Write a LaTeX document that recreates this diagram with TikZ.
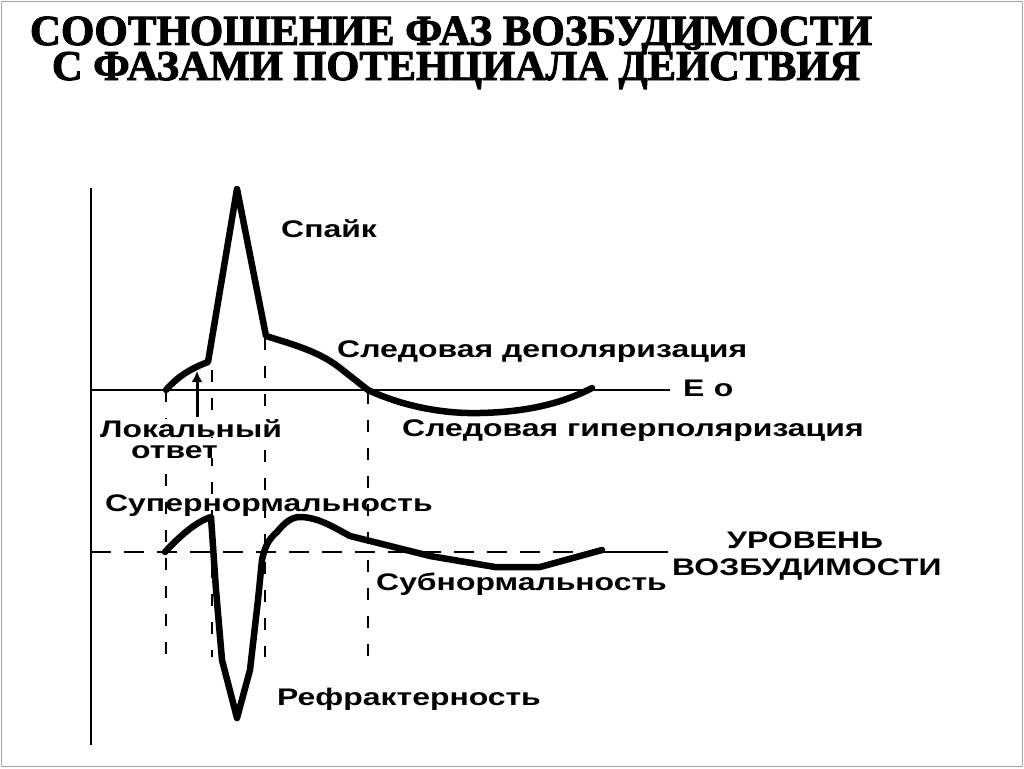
\documentclass[tikz,border=0pt]{standalone}
\usepackage{fontspec}
\setmainfont{Liberation Sans}
\newfontfamily\titlefont[FakeBold=2.2]{Liberation Serif Bold}
\newfontfamily\lblfont{Liberation Sans Bold}
\newcommand\lblstretch[1]{\scalebox{1.33}[1]{#1}}
\usetikzlibrary{arrows.meta}
\tikzset{
  curve/.style={line width=6.5pt, line join=round, line cap=round},
  axisline/.style={line width=1.5pt},
  guide/.style={line width=1.4pt, dash pattern=on 12pt off 16pt},
  leveldash/.style={line width=1.4pt, dash pattern=on 20pt off 13pt},
  lbl/.style={font=\lblfont\fontsize{24}{28}\selectfont, inner sep=0pt, anchor=base west},
  ttl/.style={font=\titlefont\fontsize{42}{46}\selectfont, inner sep=0pt, anchor=base}
}
\begin{document}
\begin{tikzpicture}[x=1pt, y=-1pt]
\useasboundingbox (0,0) rectangle (1024,768);
\fill[white] (0,0) rectangle (1024,768);
\draw[gray!70, line width=1.5pt] (1.5,1.5) rectangle (1022.5,766.5);

% title
\node[ttl] (t1) at (451,45) {\resizebox{842pt}{!}{СООТНОШЕНИЕ ФАЗ ВОЗБУДИМОСТИ}};
\node[ttl] (t2) at (456,80) {\resizebox{808pt}{!}{С ФАЗАМИ ПОТЕНЦИАЛА ДЕЙСТВИЯ}};

% axes
\coordinate (ax0) at (91,188);
\coordinate (ax1) at (91,745);
\coordinate (e0) at (91,390);
\coordinate (e1) at (670,390);
\coordinate (l0) at (91,552);
\coordinate (l1) at (600,552);
\coordinate (l2) at (668,552);
\draw[axisline] (ax0) -- (ax1);
\draw[axisline] (e0) -- (e1);
\draw[leveldash] (l0) -- (l1);
\draw[axisline] (l1) -- (l2);

% vertical guides
\coordinate (g1a) at (166,390); \coordinate (g1b) at (166,655);
\coordinate (g2a) at (212,370); \coordinate (g2b) at (212,657);
\coordinate (g3a) at (265,338); \coordinate (g3b) at (265,657);
\coordinate (g4a) at (368,392); \coordinate (g4b) at (368,657);
\draw[guide] (g1a) -- (g1b);
\draw[guide] (g2a) -- (g2b);
\draw[guide] (g3a) -- (g3b);
\draw[guide] (g4a) -- (g4b);

% action potential
\draw[curve] (166,390) .. controls (178,376) and (192,368) .. (208,362)
  -- (237,189) -- (266,336) -- (282,341)
  .. controls (305,348) and (325,356) .. (340,368) -- (368,390)
  .. controls (400,405) and (440,414) .. (480,413)
  .. controls (530,412) and (565,402) .. (592,388);

% excitability
\draw[curve] (165,552) .. controls (178,538) and (195,522) .. (211,517)
  -- (216,590) -- (222,660) -- (237,718) -- (250,670) -- (258,600) -- (262,560)
  .. controls (265,545) and (270,538) .. (277,532)
  .. controls (285,522) and (292,517) .. (300,517)
  .. controls (318,517) and (335,528) .. (350,536)
  -- (370,541) -- (430,556) -- (495,567) -- (540,567) -- (602,550);

% local response arrow
\coordinate (ar0) at (197,417);
\coordinate (ar1) at (197,371);
\draw[line width=3pt, -{Latex[length=11pt,width=11pt]}] (ar0) -- (ar1);

% labels
\node[lbl] (spike) at (281,237) {\lblstretch{Спайк}};
\node[lbl] (tdep) at (337,357) {\lblstretch{Следовая деполяризация}};
\node[lbl] (eo) at (683,396) {\lblstretch{E\kern7pt o}};
\node[lbl] (thyp) at (402,436) {\lblstretch{Следовая гиперполяризация}};
\node[lbl, fill=white] (loc1) at (100,437) {\lblstretch{Локальный}};
\node[lbl, fill=white] (loc2) at (131,458) {\lblstretch{ответ}};
\node[lbl] (super) at (105,511) {\lblstretch{Супернормальность}};
\node[lbl] (lev1) at (727,548) {\lblstretch{УРОВЕНЬ}};
\node[lbl] (lev2) at (672,575) {\lblstretch{ВОЗБУДИМОСТИ}};
\node[lbl] (sub) at (376,590) {\lblstretch{Субнормальность}};
\node[lbl] (refr) at (277,705) {\lblstretch{Рефрактерность}};
\end{tikzpicture}
\end{document}
